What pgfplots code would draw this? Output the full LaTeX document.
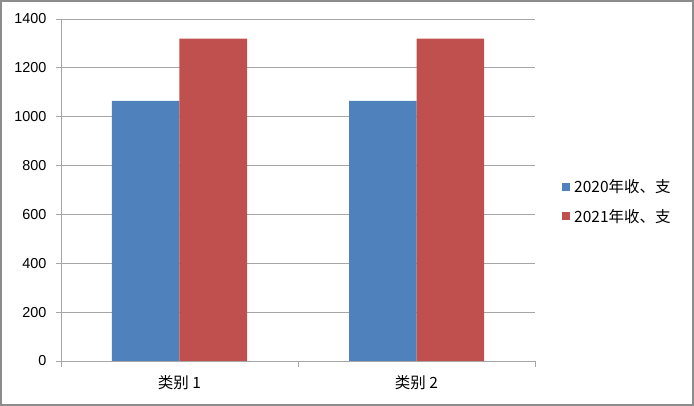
\documentclass[border=0pt]{standalone}
\usepackage{fontspec}
\setmainfont{Liberation Sans}
\newfontfamily\cjk{Noto Sans CJK SC}
\usepackage{pgfplots}
\pgfplotsset{compat=1.18}

\definecolor{xlblue}{HTML}{4F81BD}
\definecolor{xlred}{HTML}{C0504D}
\definecolor{gridgray}{HTML}{A6A6A6}
\definecolor{framegray}{HTML}{8C8C8C}

\newcommand{\lblfont}{\fontsize{14.4bp}{17bp}\selectfont}
\newcommand{\cjkfont}{\cjk\fontsize{15.5bp}{18bp}\selectfont}

\begin{document}
\begin{tikzpicture}
\useasboundingbox (-61bp,-45bp) rectangle (633bp,361bp);
\draw[framegray, line width=1.6bp] (-60.2bp,-44.2bp) rectangle (632.2bp,360.2bp);
\begin{axis}[
    at={(0,0)}, anchor=south west,
    scale only axis,
    width=474bp, height=342bp,
    xmin=0.5, xmax=2.5,
    ymin=0, ymax=1400,
    ytick={0,200,400,600,800,1000,1200,1400},
    xtick={1,2},
    xticklabels={类别 1, 类别 2},
    minor xtick={0.5,1.5,2.5},
    axis x line*=bottom,
    axis y line*=left,
    axis line style={gridgray, line width=0.8bp},
    ymajorgrids=true,
    grid style={gridgray, line width=0.8bp},
    tick align=outside,
    major tick length=5bp,
    minor tick length=6bp,
    y tick style={gridgray, line width=0.8bp},
    x tick style={draw=none},
    minor x tick style={draw=gridgray, line width=0.8bp},
    tick label style={text=black},
    yticklabel style={font=\lblfont, xshift=-6bp},
    xticklabel style={font=\cjkfont, yshift=-6bp},
    /pgf/number format/assume math mode=true,
    /pgf/number format/1000 sep={},
    ybar=0pt,
    bar width=67.5bp,
    legend style={
        at={(1.057,0.466)}, anchor=west,
        draw=none, fill=none,
        font=\cjkfont,
        row sep=11bp,
        inner sep=0pt,
    },
    legend cell align=left,
    legend image code/.code={\fill[#1] (0bp,-4bp) rectangle (8bp,4bp); \path (10bp,0bp);},
]
\addplot[fill=xlblue, draw=none] coordinates {(1,1065) (2,1065)};
\addplot[fill=xlred, draw=none] coordinates {(1,1320) (2,1320)};
\legend{2020年收、支, 2021年收、支}
\end{axis}
\end{tikzpicture}
\end{document}
